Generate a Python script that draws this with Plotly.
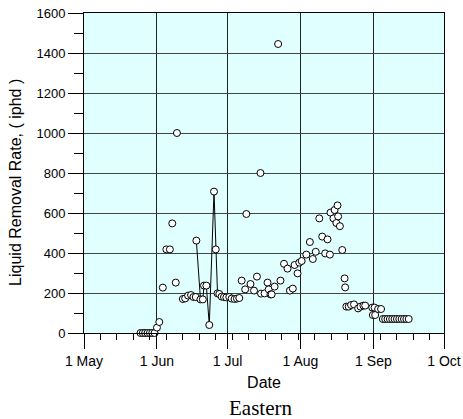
import plotly.graph_objects as go

# Point dates and liquid removal rates (iphd)
dates = [
    "2013-05-25", "2013-05-26", "2013-05-27", "2013-05-28", "2013-05-29", "2013-05-30", "2013-05-31",
    "2013-06-01", "2013-06-02", "2013-06-03 12:00", "2013-06-05", "2013-06-06 12:00", "2013-06-07 12:00",
    "2013-06-09", "2013-06-09 12:00", "2013-06-12", "2013-06-13", "2013-06-14 06:00", "2013-06-15 12:00",
    "2013-06-16 12:00", "2013-06-17 12:00", "2013-06-17 18:00", "2013-06-19 12:00", "2013-06-20 12:00",
    "2013-06-21", "2013-06-22", "2013-06-23 06:00", "2013-06-25 06:00", "2013-06-26", "2013-06-26 18:00",
    "2013-06-27 12:00", "2013-06-28 12:00", "2013-06-29 12:00", "2013-06-30 12:00", "2013-07-01 18:00",
    "2013-07-02 18:00", "2013-07-04", "2013-07-05", "2013-07-06", "2013-07-07", "2013-07-08 12:00",
    "2013-07-09", "2013-07-10 18:00", "2013-07-12 06:00", "2013-07-13 12:00", "2013-07-15",
    "2013-07-15 06:00", "2013-07-16 18:00", "2013-07-18", "2013-07-18 12:00", "2013-07-19 06:00",
    "2013-07-19 18:00", "2013-07-21", "2013-07-22 12:00", "2013-07-23 12:00", "2013-07-25",
    "2013-07-26 12:00", "2013-07-27 12:00", "2013-07-28 18:00", "2013-07-29 12:00", "2013-07-30 18:00",
    "2013-07-31 12:00", "2013-08-01 12:00", "2013-08-03 12:00", "2013-08-05", "2013-08-06 06:00",
    "2013-08-07 12:00", "2013-08-09", "2013-08-10 06:00", "2013-08-11 12:00", "2013-08-12 12:00",
    "2013-08-13 12:00", "2013-08-13 18:00", "2013-08-15", "2013-08-15 12:00", "2013-08-16 06:00",
    "2013-08-16 18:00", "2013-08-17", "2013-08-17 18:00", "2013-08-18 18:00", "2013-08-19 18:00",
    "2013-08-20", "2013-08-20 12:00", "2013-08-21 12:00", "2013-08-22 12:00", "2013-08-23 18:00",
    "2013-08-25 12:00", "2013-08-26 12:00", "2013-08-27 18:00", "2013-08-28 12:00", "2013-08-31 12:00",
    "2013-08-31 18:00", "2013-09-01 12:00", "2013-09-01 18:00", "2013-09-03", "2013-09-04 06:00",
    "2013-09-05", "2013-09-06", "2013-09-07", "2013-09-08", "2013-09-09", "2013-09-10",
    "2013-09-11", "2013-09-12", "2013-09-13", "2013-09-14", "2013-09-15", "2013-09-16",
]
rates = [
    0, 0, 0, 0, 0, 0, 0,
    27, 55, 227, 418, 418, 548,
    252, 1000, 170, 173, 187, 190,
    180, 180, 462, 168, 168,
    237, 237, 40, 707, 418, 198,
    195, 182, 180, 178, 180,
    172, 170, 172, 175, 262, 218,
    595, 245, 212, 282, 800,
    197, 198, 252, 218, 193,
    193, 232, 1445, 262, 346,
    322, 212, 222, 340, 298,
    352, 360, 392, 455, 370,
    406, 573, 482, 398, 468,
    392, 602, 573, 615, 550,
    638, 583, 534, 415, 273,
    228, 132, 132, 140, 143,
    123, 132, 137, 137, 127,
    90, 127, 90, 120, 120,
    70, 70, 70, 70, 70, 70,
    70, 70, 70, 70, 70, 70,
]

# Segment drawn with a connecting line
line_dates = [
    "2013-06-17 18:00", "2013-06-19 12:00", "2013-06-20 12:00", "2013-06-21", "2013-06-22",
    "2013-06-23 06:00", "2013-06-25 06:00", "2013-06-26", "2013-06-26 18:00", "2013-06-27 12:00",
    "2013-06-28 12:00", "2013-06-29 12:00", "2013-06-30 12:00", "2013-07-01 18:00", "2013-07-02 18:00",
    "2013-07-04", "2013-07-05", "2013-07-06",
]
line_rates = [462, 168, 168, 237, 237, 40, 707, 418, 198, 195, 182, 180, 178, 180, 172, 170, 172, 175]

x_range = ["2013-05-01", "2013-10-01"]
y_range = [0, 1600]

fig = go.Figure()
fig.add_trace(go.Scatter(
    x=line_dates, y=line_rates, mode="lines",
    line=dict(color="black", width=1), cliponaxis=False, hoverinfo="skip",
))
fig.add_trace(go.Scatter(
    x=dates, y=rates, mode="markers",
    marker=dict(size=7, color="white", line=dict(color="black", width=1)),
    cliponaxis=False,
))

x_tick_font = dict(family="Liberation Sans, Arial, sans-serif", size=14, color="black")
y_tick_font = dict(family="Liberation Sans, Arial, sans-serif", size=13, color="black")
title_font = dict(family="Liberation Sans, Arial, sans-serif", size=16, color="black")

fig.update_layout(
    width=463, height=419,
    margin=dict(l=84, r=19, t=13, b=86),
    paper_bgcolor="white",
    plot_bgcolor="#E0FFFF",
    showlegend=False,
    font=x_tick_font,
    xaxis=dict(
        type="date", range=x_range, automargin=False,
        tick0="2013-05-01", dtick="M1", tickformat="%-d %b",
        ticks="outside", ticklen=15, tickcolor="black", tickwidth=1,
        showgrid=True, gridcolor="#222222", gridwidth=1,
        showline=True, linecolor="black", linewidth=1, mirror=True,
        zeroline=False,
        minor=dict(ticks="outside", ticklen=6, tickcolor="black",
                   tick0="2013-05-01", dtick=7 * 86400000, showgrid=False),
        title=dict(text="Date", font=title_font, standoff=9),
        tickfont=x_tick_font,
    ),
    yaxis=dict(
        range=y_range, dtick=200, tick0=0, automargin=False,
        ticks="outside", ticklen=15, tickcolor="black", tickwidth=1,
        showgrid=True, gridcolor="#444444", gridwidth=1,
        showline=True, linecolor="black", linewidth=1, mirror=True,
        zeroline=False,
        minor=dict(ticks="outside", ticklen=9, tickcolor="black", dtick=100, showgrid=False),
        tickfont=y_tick_font,
    ),
    annotations=[
        dict(
            text="Liquid Removal Rate, ( iphd )", xref="paper", yref="paper",
            x=-0.189, y=0.472, xanchor="center", yanchor="middle", textangle=-90,
            showarrow=False, font=title_font,
        ),
        dict(
            text="Eastern", xref="paper", yref="paper", x=0.49, y=-0.234,
            xanchor="center", yanchor="middle", showarrow=False,
            font=dict(family="Liberation Serif, Times New Roman, serif", size=21, color="black"),
        ),
    ],
)

fig.write_html("out.html")
